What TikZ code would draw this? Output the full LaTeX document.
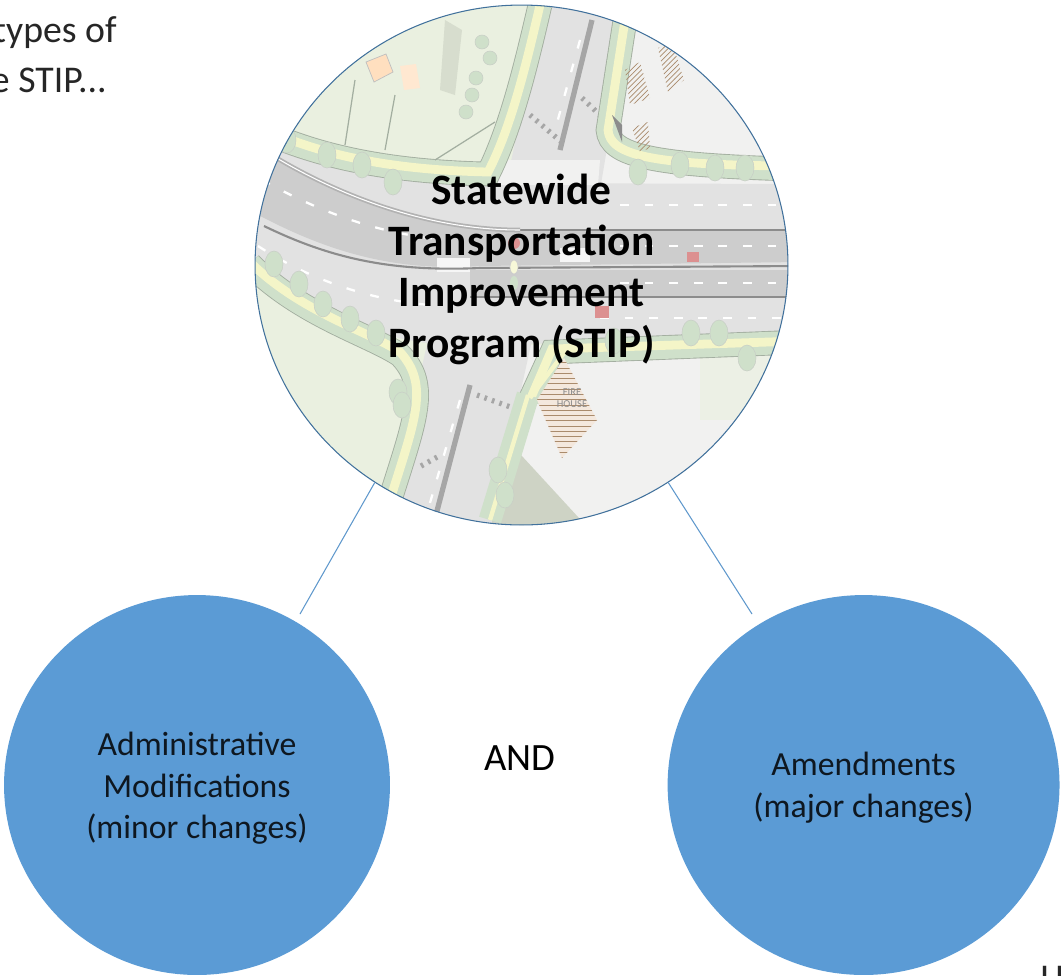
\documentclass[tikz,border=0pt]{standalone}
\usepackage{fontspec}
\setmainfont{Carlito}
\usetikzlibrary{positioning,patterns,shapes.geometric}
\def\BranchGap{5.54cm}
\definecolor{officeblue}{HTML}{5B9BD5}
\definecolor{rimblue}{HTML}{41719C}
\definecolor{lawn}{HTML}{EAF0E0}
\definecolor{paving}{HTML}{F1F1F0}
\definecolor{lane}{HTML}{E2E2E2}
\definecolor{carriage}{HTML}{CDCDCD}
\definecolor{verge}{HTML}{CFE0CA}
\definecolor{pathway}{HTML}{F4F5C8}
\definecolor{kerb}{HTML}{A3AEA0}
\tikzset{
	branch/.style={ellipse,fill=officeblue,inner sep=0pt,align=center,text=black!85!officeblue,font=\fontsize{19.2}{23.8}\selectfont},
	stipcircle/.style={ellipse,draw=rimblue,line width=0.6pt,inner sep=0pt,minimum width=10.66cm,minimum height=10.4cm,align=center,font=\fontsize{24.7}{29}\selectfont\bfseries},
	linkline/.style={draw=officeblue!90!gray,line width=0.6pt},
	lanemark/.style={white,line width=1.3pt,dash pattern=on 5pt off 9pt},
	crossing/.style={black!35,line width=3pt,dash pattern=on 1.5pt off 3pt},
	kerbline/.style={kerb,line width=0.7pt},
	kerbedge/.style={kerb,line width=14pt},
	walkway/.style={pathway,line width=5pt},
	vergeway/.style={verge,line width=13pt},
	tree/.style={fill=verge,draw=kerb!60,line width=0.3pt},
	hatchblock/.style={pattern=north east lines,pattern color=brown!70!black!70},
	plaintext/.style={font=\fontsize{21.5}{26.6}\selectfont,text=black!85,inner sep=0pt},
}
\begin{document}
\begin{tikzpicture}[x=0.02cm,y=-0.02cm]
	\path[use as bounding box,clip] (0,0) rectangle (1061,975);
	\begin{scope}
		\clip (521.5,265) ellipse (266.5 and 260);
		% ground
		\fill[lawn] (240,0) rectangle (800,540);
		\fill[paving] (600,0) rectangle (800,190);
		\fill[paving] (505,345) -- (800,345) -- (800,540) -- (505,540) -- cycle;
		\fill[lawn!70!paving] (700,345) rectangle (800,420);
		\fill[black!12!lawn] (510,443) -- (590,530) -- (485,530) -- cycle;
		% east-west road
		\fill[lane] (240,128) .. controls (320,160) and (400,182) .. (495,183) -- (800,184) -- (800,339) -- (460,345) .. controls (380,345) and (310,310) .. (240,252) -- cycle;
		\fill[carriage] (255,146) .. controls (330,190) and (420,230) .. (520,230) -- (800,230) -- (800,262) -- (480,266) .. controls (390,272) and (320,250) .. (240,205) -- cycle;
		\fill[carriage] (470,270) rectangle (800,297);
		% north-south road
		\fill[lane] (545,0) -- (632,0) -- (600,190) -- (505,190) -- cycle;
		\fill[lane] (428,340) -- (532,340) -- (490,530) -- (385,530) -- cycle;
		\fill[paving] (500,160) -- (600,160) -- (598,185) -- (495,185) -- cycle;
		\fill[white!70!lane] (437,258) rectangle (470,272);
		\fill[white!70!lane] (560,248) rectangle (590,262);
		\draw[black!35,line width=3pt] (592,20) -- (560,150);
		\draw[black!35,line width=3pt] (470,385) -- (432,530);
		\draw[black!45,line width=1.2pt] (264,226) .. controls (330,258) and (390,272) .. (480,268) -- (800,266);
		\draw[black!45,line width=1.2pt] (470,297) -- (800,297);
		\draw[black!45,line width=1.2pt] (520,230) -- (800,230);
		\draw[black!30,line width=1pt,double=white] (275,157) .. controls (330,190) and (420,230) .. (520,230);
		% lane marks
		\draw[lanemark] (262,180) .. controls (320,212) and (380,235) .. (450,240);
		\draw[lanemark] (258,246) .. controls (310,280) and (370,300) .. (430,305);
		\draw[lanemark] (620,205) -- (790,205);
		\draw[lanemark] (620,246) -- (790,246);
		\draw[lanemark] (620,283) -- (790,283);
		\draw[lanemark] (600,318) -- (790,318);
		\draw[lanemark] (580,40) -- (555,130);
		\draw[lanemark] (460,400) -- (425,520);
		\draw[crossing] (530,115) -- (565,145);
		\draw[crossing] (582,98) -- (600,115);
		\draw[crossing] (477,395) -- (516,409);
		\draw[crossing] (421,466) -- (439,456);
		% verges, paths
		\draw[kerbedge] (250,125) .. controls (320,160) and (400,172) .. (488,174) .. controls (510,130) and (525,70) .. (540,5);
		\draw[vergeway] (250,125) .. controls (320,160) and (400,172) .. (488,174) .. controls (510,130) and (525,70) .. (540,5);
		\draw[walkway] (250,122) .. controls (320,158) and (400,170) .. (488,172) .. controls (510,130) and (525,70) .. (540,5);
		\draw[kerbedge] (625,20) -- (608,130) .. controls (610,155) and (650,165) .. (790,169);
		\draw[vergeway] (625,20) -- (608,130) .. controls (610,155) and (650,165) .. (790,169);
		\draw[walkway] (625,20) -- (608,130) .. controls (610,155) and (650,165) .. (790,166);
		\draw[kerbedge] (250,264) .. controls (300,315) and (370,335) .. (400,355) .. controls (430,385) and (415,420) .. (390,500);
		\draw[vergeway] (250,264) .. controls (300,315) and (370,335) .. (400,355) .. controls (430,385) and (415,420) .. (390,500);
		\draw[walkway] (250,262) .. controls (300,312) and (370,332) .. (400,352) .. controls (430,385) and (415,420) .. (390,500);
		\draw[kerbedge] (530,400) -- (552,352) -- (800,342);
		\draw[vergeway] (530,400) -- (552,352) -- (800,342);
		\draw[walkway] (530,400) -- (552,349) -- (800,341);
		\draw[vergeway] (528,395) -- (490,520);
		\draw[pathway,line width=2.5pt] (528,395) -- (490,520);
		\draw[kerbline] (435,160) -- (495,122);
		\foreach \treex/\treey in {327/155,362/165,393/182,258/120,287/140,638/172,680/165,715/168,745/168,274/264,299/284,323/304,350/319,376/333,614/341,691/333,719/333,747/358,398/392,402/405,498/470,505/495}
			\draw[tree] (\treex,\treey) ellipse (9 and 13);
		\foreach \treex/\treey in {482/42,490/58,476/78,472/95,466/112}
			\draw[tree] (\treex,\treey) circle (7);
		% lots, buildings
		\fill[orange!25,draw=black!25] (366,62) -- (386,54) -- (393,72) -- (374,82) -- cycle;
		\fill[orange!18] (400,66) -- (416,64) -- (420,88) -- (404,90) -- cycle;
		\fill[black!8!lawn] (445,20) -- (462,30) -- (455,95) -- (440,90) -- cycle;
		\draw[kerbline] (355,80) -- (345,145) (395,95) -- (385,150);
		\fill[hatchblock] (658,48) -- (672,42) -- (684,80) -- (668,92) -- cycle;
		\fill[hatchblock] (625,70) -- (640,62) -- (650,98) -- (630,105) -- cycle;
		\fill[hatchblock] (632,128) -- (648,122) -- (650,148) -- (640,152) -- cycle;
		\fill[black!45] (612,115) -- (622,125) -- (622,142) -- cycle;
		\fill[brown!18] (564,358) -- (597,420) -- (562,458) -- (537,400) -- cycle;
		\fill[pattern=horizontal lines,pattern color=brown!70!black!70] (564,358) -- (597,420) -- (562,458) -- (537,400) -- cycle;
		\node[text=black!45,font=\fontsize{6}{7}\selectfont,align=center,inner sep=0pt] (firehouse) at (572,398) {FIRE\\HOUSE};
		\draw[pathway,line width=2.5pt] (530,398) -- (570,345);
		% cars, signal
		\fill[red!30!carriage] (687,252) rectangle (699,262);
		\fill[red!30!carriage] (595,306) rectangle (609,318);
		\fill[red!30!carriage] (514,243) circle (6);
		\fill[pathway!70!white,draw=black!20] (514,267) ellipse (4 and 7);
		\fill[verge] (514,283) ellipse (4 and 7);
	\end{scope}
	\node[stipcircle] (stip) at (521.5,265) {\rule{0pt}{22pt}Statewide\\Transportation\\Improvement\\Program (STIP)};
	\node[branch,minimum width=7.72cm,minimum height=7.6cm] (admin) at (197,785) {\rule{0pt}{17pt}Administrative\\Modifications\\(minor changes)};
	\node[branch,minimum width=7.84cm,minimum height=7.6cm,right=\BranchGap of admin] (amend) {\rule{0pt}{16pt}Amendments\\(major changes)};
	\node[font=\fontsize{22}{26}\selectfont,inner sep=0pt] (andword) at (520,758) {AND};
	\coordinate (adminend) at (300,614);
	\coordinate (amendend) at (752,614);
	\draw[linkline] (stip.236) -- (adminend);
	\draw[linkline] (stip.304) -- (amendend);
	\node[plaintext,anchor=east] (introtop) at (117,33) {types of};
	\node[plaintext,anchor=east] (introlow) at (107,80) {e STIP...};
	\node[plaintext,anchor=north west] (cutoff) at (1040,966) {H};
\end{tikzpicture}
\end{document}
